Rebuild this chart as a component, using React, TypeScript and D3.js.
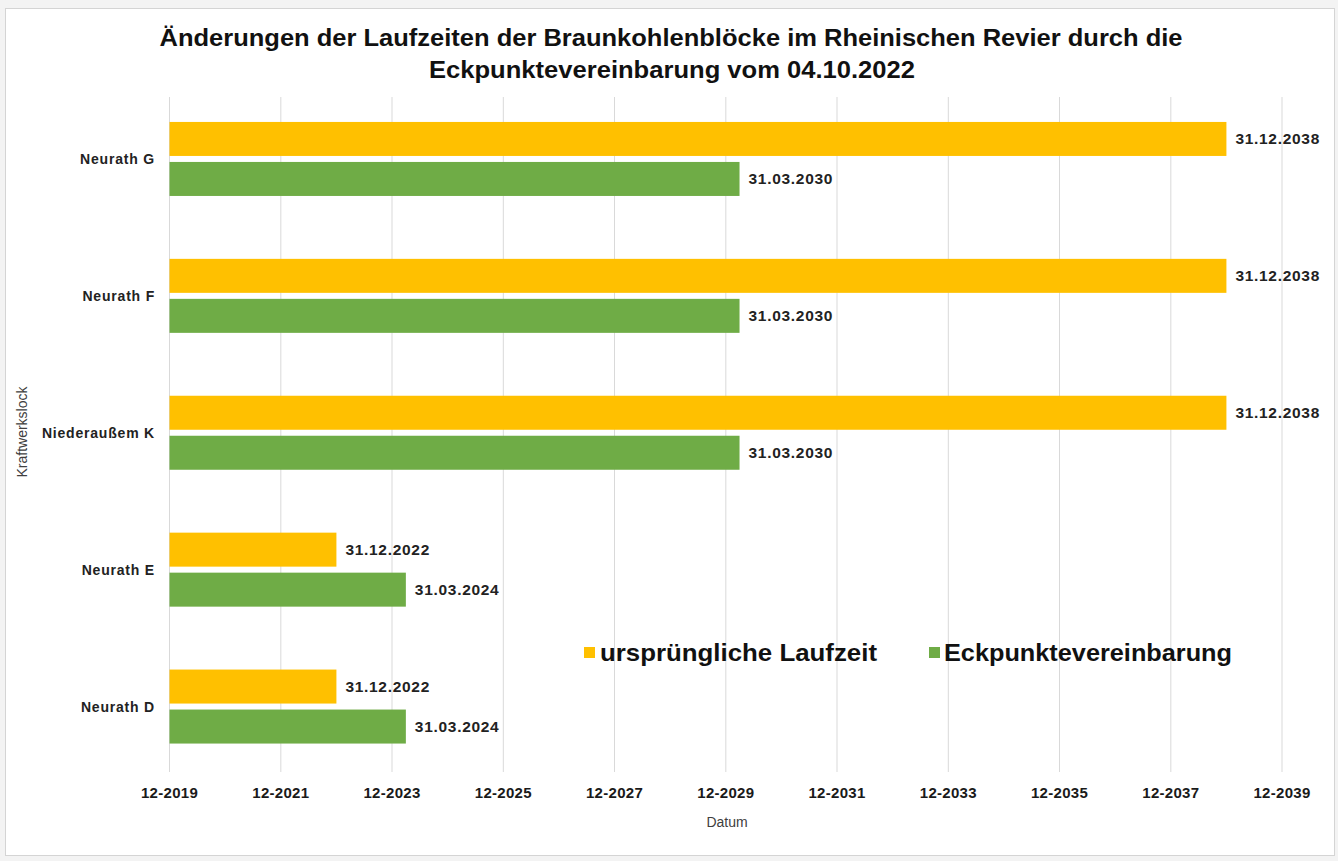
import React from "react";
import * as d3 from "d3";

const categories = ["Neurath G", "Neurath F", "Niederaußem K", "Neurath E", "Neurath D"];
const originalEnd = ["2038-12-31", "2038-12-31", "2038-12-31", "2022-12-31", "2022-12-31"];
const agreementEnd = ["2030-03-31", "2030-03-31", "2030-03-31", "2024-03-31", "2024-03-31"];
const originalLabels = ["31.12.2038", "31.12.2038", "31.12.2038", "31.12.2022", "31.12.2022"];
const agreementLabels = ["31.03.2030", "31.03.2030", "31.03.2030", "31.03.2024", "31.03.2024"];
const seriesNames = ["ursprüngliche Laufzeit", "Eckpunktevereinbarung"];
const tickYears = [2019, 2021, 2023, 2025, 2027, 2029, 2031, 2033, 2035, 2037, 2039];

const W = 1338;
const H = 861;
const ORANGE = "#FFC000";
const GREEN = "#6FAC46";
const FONT = "'Liberation Sans', Arial, sans-serif";

const parse = d3.timeParse("%Y-%m-%d");

export default function App() {
  const x = d3
    .scaleTime()
    .domain([new Date(2019, 11, 31), new Date(2039, 11, 31)])
    .range([169.5, 1282]);
  const y = d3.scaleBand().domain(categories).range([90.5, 775]).padding(0);
  const ticks = tickYears.map((yr) => new Date(yr, 11, 31));
  const fmt = d3.timeFormat("%m-%Y");
  const x0 = x(new Date(2019, 11, 31));

  return (
    <svg
      width={W}
      height={H}
      style={{ position: "absolute", left: 0, top: 0, background: "#fff" }}
      fontFamily={FONT}
    >
      <rect x={0} y={0} width={W} height={H} fill="#f3f3f3" />
      <rect x={5.5} y={8.5} width={1329} height={847} fill="#fff" stroke="#d4d4d4" />

      <text x={671} y={46} textAnchor="middle" fontSize={23} fontWeight="bold" fill="#111"
        textLength={1023} lengthAdjust="spacingAndGlyphs">
        Änderungen der Laufzeiten der Braunkohlenblöcke im Rheinischen Revier durch die
      </text>
      <text x={672} y={78} textAnchor="middle" fontSize={23} fontWeight="bold" fill="#111"
        textLength={486} lengthAdjust="spacingAndGlyphs">
        Eckpunktevereinbarung vom 04.10.2022
      </text>

      {ticks.map((t, i) => (
        <g key={i}>
          <line x1={x(t)} x2={x(t)} y1={97} y2={772} stroke="#d9d9d9" strokeWidth={1} />
          <text x={x(t)} y={798} textAnchor="middle" fontSize={15} fontWeight="bold" fill="#1a1a1a"
            letterSpacing={0.3}>
            {fmt(t)}
          </text>
        </g>
      ))}

      {categories.map((c, i) => {
        const cy = (y(c) as number) + y.bandwidth() / 2;
        const xo = x(parse(originalEnd[i]) as Date);
        const xa = x(parse(agreementEnd[i]) as Date);
        return (
          <g key={c}>
            <rect x={x0} y={cy - 37} width={xo - x0} height={34} fill={ORANGE} />
            <rect x={x0} y={cy + 3} width={xa - x0} height={34} fill={GREEN} />
            <text x={xo + 9} y={cy - 15} fontSize={15.5} fontWeight="bold" fill="#222" letterSpacing={0.7}>
              {originalLabels[i]}
            </text>
            <text x={xa + 9} y={cy + 25} fontSize={15.5} fontWeight="bold" fill="#222" letterSpacing={0.7}>
              {agreementLabels[i]}
            </text>
            <text x={155} y={cy + 5} textAnchor="end" fontSize={14} fontWeight="bold" fill="#222" letterSpacing={0.8}>
              {c}
            </text>
          </g>
        );
      })}

      <text x={727} y={827} textAnchor="middle" fontSize={14} fill="#404040">Datum</text>
      <text transform="translate(27,432) rotate(-90)" textAnchor="middle" fontSize={14} fill="#404040">
        Kraftwerkslock
      </text>

      <rect x={584} y={647} width={11} height={11} fill={ORANGE} />
      <text x={600} y={661} fontSize={24} fontWeight="bold" fill="#111" textLength={277} lengthAdjust="spacingAndGlyphs">
        {seriesNames[0]}
      </text>
      <rect x={929} y={647} width={11} height={11} fill={GREEN} />
      <text x={944} y={661} fontSize={24} fontWeight="bold" fill="#111" textLength={288} lengthAdjust="spacingAndGlyphs">
        {seriesNames[1]}
      </text>
    </svg>
  );
}
